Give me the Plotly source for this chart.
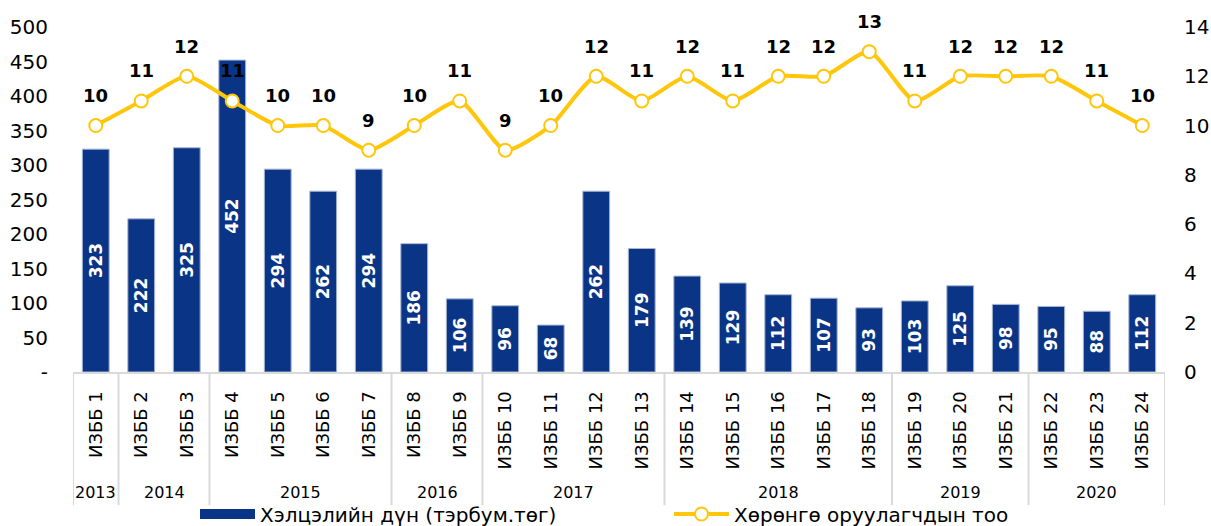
import plotly.graph_objects as go

categories = [f"ИЗББ {i}" for i in range(1, 25)]
deal_values = [323, 222, 325, 452, 294, 262, 294, 186, 106, 96, 68, 262, 179,
               139, 129, 112, 107, 93, 103, 125, 98, 95, 88, 112]
investor_counts = [10, 11, 12, 11, 10, 10, 9, 10, 11, 9, 10, 12, 11,
                   12, 11, 12, 12, 13, 11, 12, 12, 12, 11, 10]
years = ["2013", "2014", "2015", "2016", "2017", "2018", "2019", "2020"]
year_sizes = [1, 2, 4, 2, 4, 5, 3, 3]
left_ticks = [0, 50, 100, 150, 200, 250, 300, 350, 400, 450, 500]
left_tick_text = ["-", "50", "100", "150", "200", "250", "300", "350", "400", "450", "500"]
right_ticks = [0, 2, 4, 6, 8, 10, 12, 14]

bar_name = "Хэлцэлийн дүн (тэрбум.төг)"
line_name = "Хөрөнгө оруулагчдын тоо"

BLUE = "#0A3586"
GOLD = "#FFC60A"
GRID = "#D9D9D9"
FONT = "DejaVu Sans"

x = list(range(len(categories)))

fig = go.Figure()
fig.add_trace(go.Bar(
    x=x, y=deal_values, name=bar_name, showlegend=False,
    marker=dict(color=BLUE, line=dict(color="#A9B6D3", width=1)),
    width=0.59,
    text=[str(v) for v in deal_values], textposition="inside",
    insidetextanchor="middle", textangle=-90, constraintext="none",
    textfont=dict(family=FONT, size=17, color="white", weight="bold"),
    cliponaxis=False,
))
# legend swatch for the bars
fig.add_trace(go.Scatter(
    x=[None], y=[None], mode="lines", name=bar_name,
    line=dict(color=BLUE, width=13),
))
fig.add_trace(go.Scatter(
    x=x, y=investor_counts, name=line_name, yaxis="y2",
    mode="lines+markers",
    line=dict(color=GOLD, width=4, shape="spline", smoothing=0.6),
    marker=dict(size=13, color="white", line=dict(color=GOLD, width=2)),
    cliponaxis=False,
))

annotations = []
for xi, v in zip(x, investor_counts):
    annotations.append(dict(
        x=xi, y=v, xref="x", yref="y2", text=f"<b>{v}</b>", showarrow=False,
        yshift=30, font=dict(family=FONT, size=18, color="black"),
    ))

shapes = []
start = 0
boundaries = [-0.5]
for yname, n in zip(years, year_sizes):
    center = start + (n - 1) / 2
    annotations.append(dict(
        x=center, y=-0.348, xref="x", yref="paper", text=yname,
        showarrow=False, font=dict(family=FONT, size=16, color="black"),
        yanchor="middle",
    ))
    start += n
    boundaries.append(start - 0.5)
for b in boundaries:
    shapes.append(dict(type="line", xref="x", yref="paper", x0=b, x1=b,
                       y0=0, y1=-0.386, line=dict(color=GRID, width=2)))

fig.update_layout(
    width=1211, height=526,
    margin=dict(l=73, r=46, t=27, b=154, autoexpand=False),
    paper_bgcolor="white", plot_bgcolor="white",
    font=dict(family=FONT, size=18, color="black"),
    xaxis=dict(
        range=[-0.5, 23.5], tickmode="array", tickvals=x, ticktext=categories,
        tickangle=-90, showgrid=False, zeroline=False, showline=True,
        linecolor=GRID, linewidth=2, ticks="", ticklabelstandoff=10,
        tickfont=dict(family=FONT, size=18, color="black"), automargin=False,
    ),
    yaxis=dict(
        range=[0, 500], tickmode="array", tickvals=left_ticks,
        ticktext=left_tick_text,
        showgrid=False, zeroline=False, showline=False, ticks="",
        tickfont=dict(family=FONT, size=20, color="black"),
        ticklabelstandoff=24, automargin=False,
    ),
    yaxis2=dict(
        range=[0, 14], overlaying="y", side="right", tickmode="array",
        tickvals=right_ticks, showgrid=False, zeroline=False,
        showline=False, ticks="",
        tickfont=dict(family=FONT, size=20, color="black"),
        ticklabelstandoff=18, automargin=False,
    ),
    legend=dict(
        orientation="h", xref="container", x=195 / 1211, xanchor="left",
        yref="container", y=12 / 526, yanchor="middle",
        font=dict(family=FONT, size=20, color="black"),
        itemwidth=55, entrywidth=404, bgcolor="rgba(0,0,0,0)",
    ),
    annotations=annotations, shapes=shapes,
)

fig.write_html("out.html", config={"displayModeBar": False},
               post_script="document.body.style.margin='0';")
